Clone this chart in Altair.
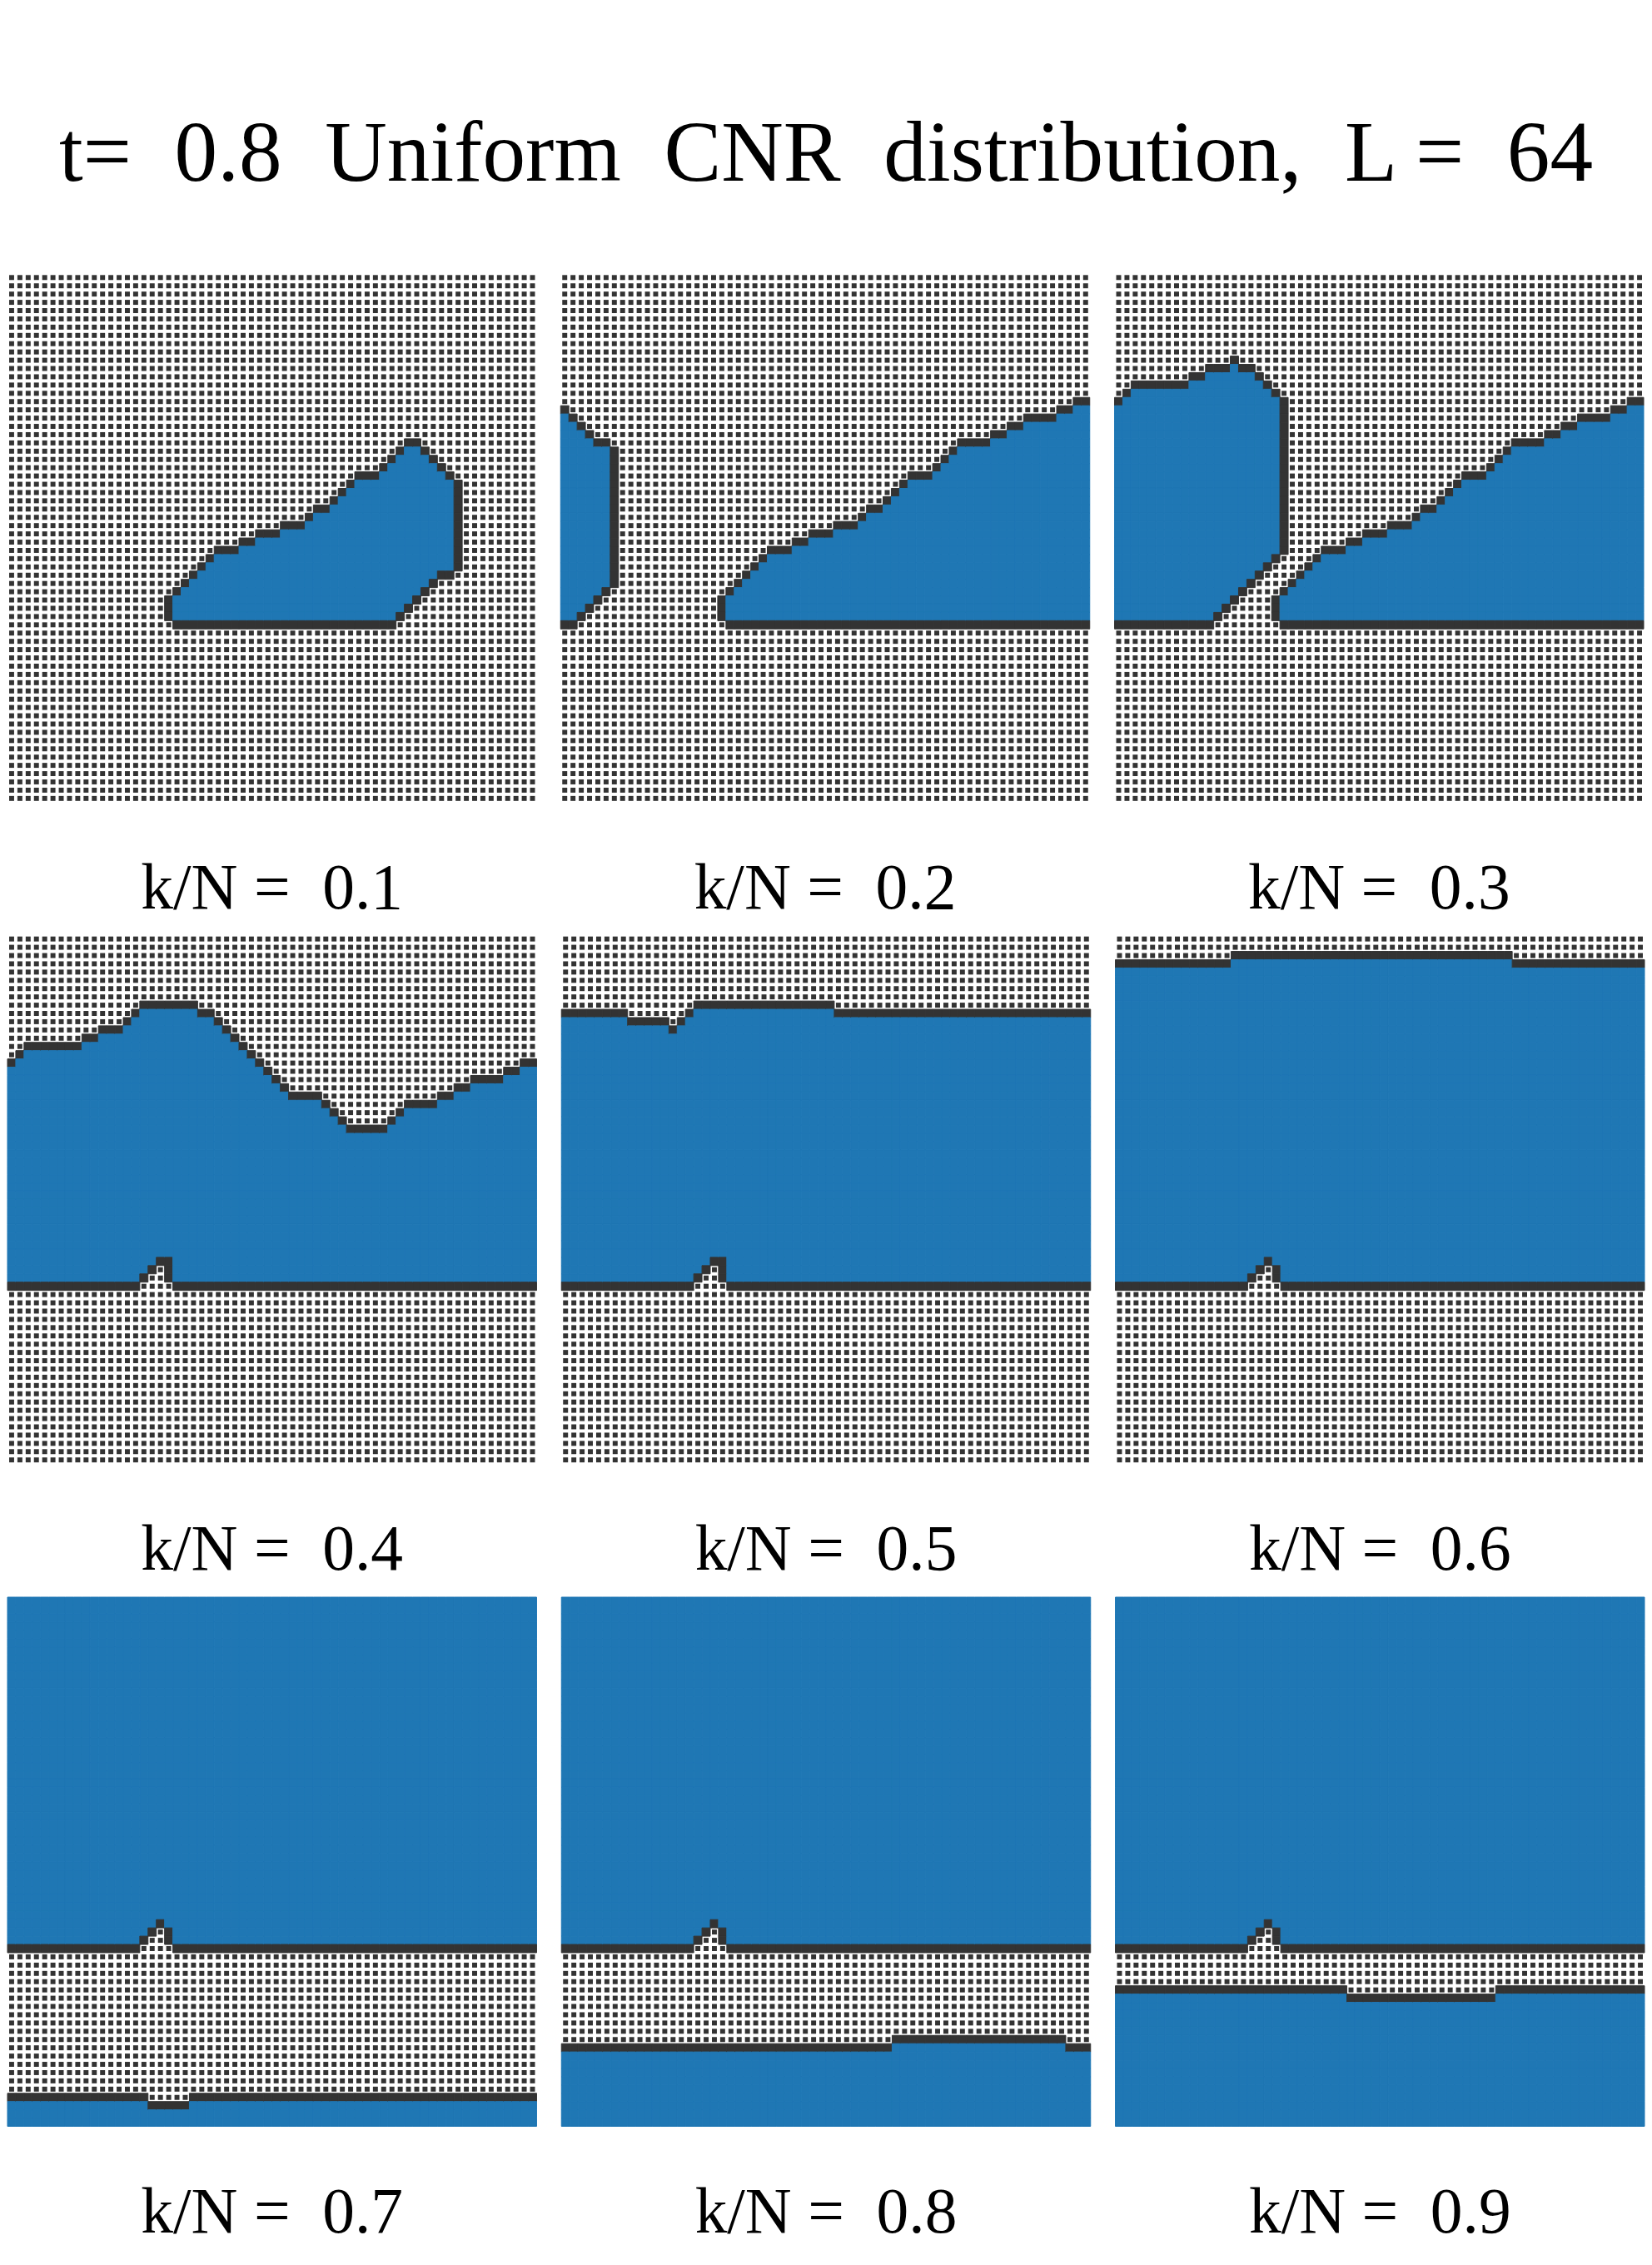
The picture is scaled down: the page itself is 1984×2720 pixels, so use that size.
import altair as alt
import pandas as pd

alt.data_transformers.disable_max_rows()

L = 64
BLUE = "#1f77b4"
DARK = "#333333"
FONT = "Liberation Serif"
NB = "\u00a0"  # svg collapses plain double spaces

TITLE = f"t={NB} 0.8{NB} Uniform{NB} CNR{NB} distribution,{NB} L ={NB} 64"
K_VALUES = [0.1, 0.2, 0.3, 0.4, 0.5, 0.6, 0.7, 0.8, 0.9]

# first / last occupied row of every lattice column (None = empty column).
# a first row below the last one means the cluster wraps round the periodic edge
TOP_01 = [None] * 20 + [39, 38, 37, 36, 35, 34, 34, 34, 33, 33, 32, 32, 32, 31, 31, 31, 30,
                        29, 29, 28, 27, 26, 25, 25, 25, 24, 23, 22, 21, 21, 22, 23, 24, 25] + [None] * 10
BOT_01 = [None] * 20 + [41] * 27 + [40, 39, 38, 37, 36, 35, 35] + [None] * 10

WEDGE_TOP = [39, 38, 37, 36, 35, 34, 34, 34, 33, 33, 32, 32, 32, 31, 31, 31, 30, 29, 29, 28, 27, 26,
             25, 25, 25, 24, 23, 22, 21, 21, 21, 21, 20, 20, 19, 19, 18, 18, 18, 18, 17, 17, 16, 16]

TOP_02 = [17, 18, 19, 20, 21, 21] + [None] * 14 + WEDGE_TOP
BOT_02 = [41, 41, 40, 39, 38, 37] + [None] * 14 + [41] * 44

TOP_03 = [16, 15, 14, 14, 14, 14, 14, 14, 14, 13, 13, 12, 12, 12, 11, 12, 12, 13, 14, 15] + WEDGE_TOP
BOT_03 = [41] * 12 + [40, 39, 38, 37, 36, 35, 34, 33] + [41] * 44

TOP_04 = [16, 15, 14, 14, 14, 14, 14, 14, 14, 13, 13, 12, 12, 12, 11, 10, 9, 9, 9, 9, 9, 9, 9, 10,
          10, 11, 12, 13, 14, 15, 16, 17, 18, 19, 20, 20, 20, 20, 21, 22, 23, 24, 24, 24, 24, 24,
          23, 22, 21, 21, 21, 21, 20, 20, 19, 19, 18, 18, 18, 18, 17, 17, 16, 16]
BUMP_A = [41] * 16 + [40, 39, 38, 38] + [41] * 44
BUMP_B = [41] * 16 + [40, 39, 38, 39] + [41] * 44

TOP_05 = [10] * 8 + [11] * 5 + [12, 11, 10] + [9] * 17 + [10] * 31
TOP_06 = [4] * 14 + [3] * 34 + [4] * 16
TOP_07 = [61] * 17 + [62] * 5 + [61] * 42
TOP_08 = [55] * 40 + [54] * 21 + [55] * 3
TOP_09 = [48] * 28 + [49] * 18 + [48] * 18

PANELS = [
    (TOP_01, BOT_01), (TOP_02, BOT_02), (TOP_03, BOT_03),
    (TOP_04, BUMP_A), (TOP_05, BUMP_A), (TOP_06, BUMP_B),
    (TOP_07, BUMP_B), (TOP_08, BUMP_B), (TOP_09, BUMP_B),
]


def lattice(top, bottom):
    filled = set()
    for c in range(L):
        if top[c] is None:
            continue
        t, b = top[c], bottom[c]
        rows = range(t, b + 1) if t <= b else list(range(t, L)) + list(range(0, b + 1))
        for r in rows:
            filled.add((c, r))
    recs = []
    for c in range(L):
        for r in range(L):
            if (c, r) in filled:
                kind = "fill"
            elif any(((c + dc) % L, (r + dr) % L) in filled
                     for dc, dr in ((1, 0), (-1, 0), (0, 1), (0, -1))):
                kind = "edge"
            else:
                kind = "empty"
            recs.append({"col": c, "row": r, "kind": kind})
    return pd.DataFrame(recs)


def panel(df, k):
    xs = alt.Scale(domain=[0, L], nice=False, zero=False)
    ys = alt.Scale(domain=[0, L], nice=False, zero=False, reverse=True)
    kinds = alt.Scale(domain=["edge", "fill"], range=[DARK, BLUE])
    base = alt.Chart(df)

    dots = base.transform_filter(alt.datum.kind == "empty").transform_calculate(
        xc="datum.col + 0.5", yc="datum.row + 0.5"
    ).mark_square(size=36, color=DARK, opacity=1).encode(
        x=alt.X("xc:Q", scale=xs, axis=None),
        y=alt.Y("yc:Q", scale=ys, axis=None),
    )

    # same-colour stroke hides the hairline seams between neighbouring cells
    cells = base.transform_filter(alt.datum.kind != "empty").transform_calculate(
        col1="datum.col + 1", row1="datum.row + 1"
    ).mark_rect(strokeWidth=1).encode(
        x=alt.X("col:Q", scale=xs, axis=None),
        x2="col1:Q",
        y=alt.Y("row:Q", scale=ys, axis=None),
        y2="row1:Q",
        color=alt.Color("kind:N", scale=kinds, legend=None),
        stroke=alt.Stroke("kind:N", scale=kinds, legend=None),
    )

    return alt.layer(dots, cells).properties(
        width=640,
        height=640,
        title=alt.TitleParams(
            f"k/N ={NB} {k}", orient="bottom", anchor="middle", font=FONT, fontSize=78,
            fontWeight="normal", color="black", offset=66, baseline="top",
        ),
    )


charts = [panel(lattice(t, b), k) for (t, b), k in zip(PANELS, K_VALUES)]
rows = [alt.hconcat(*charts[i:i + 3], spacing=28) for i in range(0, 9, 3)]

chart = alt.vconcat(
    *rows,
    spacing=16,
    title=alt.TitleParams(TITLE, anchor="middle", font=FONT, fontSize=104,
                          fontWeight="normal", color="black", offset=90),
).properties(
    padding={"left": 0, "right": 0, "top": 118, "bottom": 0}
).configure_view(
    strokeWidth=0
)

chart.save("out.html", embed_options={"renderer": "svg", "actions": False})
